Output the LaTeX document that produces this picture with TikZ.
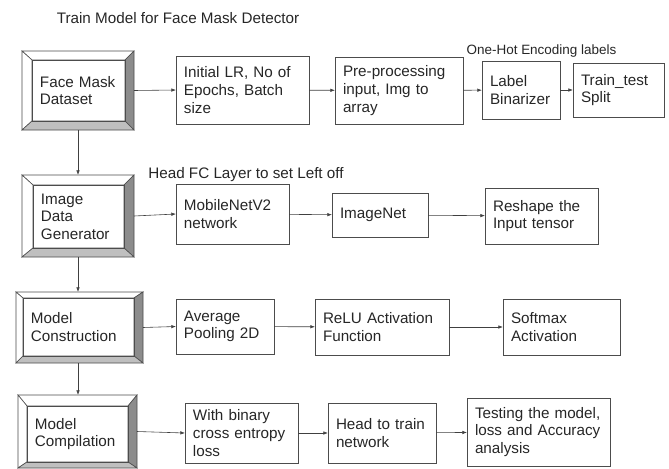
\documentclass[tikz,border=0pt]{standalone}
\usepackage{fontspec}
\setmainfont{Liberation Sans}
\usepackage{xcolor}
\usetikzlibrary{arrows.meta,calc}

% bevelled frame round an (invisible) node: left, top, right, bottom widths
\newcommand{\bevelframe}[5]{%
  \path (#1.north west) coordinate (o1) (#1.north east) coordinate (o2)
        (#1.south east) coordinate (o3) (#1.south west) coordinate (o4);
  \path ($(o1)+(#2,#3)$) coordinate (i1) ($(o2)+(-#4,#3)$) coordinate (i2)
        ($(o3)+(-#4,-#5)$) coordinate (i3) ($(o4)+(#2,-#5)$) coordinate (i4);
  \filldraw[frame, fill=white] (o1) -- (o2) -- (i2) -- (i1) -- cycle;
  \filldraw[frame, fill=white] (o1) -- (i1) -- (i4) -- (o4) -- cycle;
  \filldraw[frame, fill=black!45] (o2) -- (o3) -- (i3) -- (i2) -- cycle;
  \filldraw[frame, fill=black!25] (o4) -- (i4) -- (i3) -- (o3) -- cycle;
  \draw[frame] (i1) rectangle (i3);
}

\tikzset{
  frame/.style={draw=black!70, line width=0.5pt, line join=miter},
  stepbox/.style={draw=black!70, line width=0.5pt, align=left,
    inner xsep=0.24cm, inner ysep=0pt, outer sep=0pt},
  holder/.style={inner sep=0pt, outer sep=0pt},
  link/.style={draw=black!75, line width=0.5pt, -{Latex[length=4pt, width=3pt]}}
}

\begin{document}
\begin{tikzpicture}[x=0.03cm, y=-0.03cm,
  every node/.style={font=\fontsize{13}{15}\selectfont, text=black!85}]
\useasboundingbox (0,0) rectangle (669,468);

\node (title) at (178,18) {Train Model for Face Mask Detector};

% left column: bevelled stages
\node[holder, minimum width=3.36cm, minimum height=2.37cm] (fmd) at (78,90.5) {};
\bevelframe{fmd}{10}{9}{9}{9}
\node[stepbox, draw=none, text width=2.31cm] (fmdtext) at (78.5,90.5) {Face Mask\\Dataset};

\node[holder, minimum width=3.36cm, minimum height=2.46cm] (idg) at (78,216) {};
\bevelframe{idg}{11}{10}{10}{9}
\node[stepbox, draw=none, text width=2.25cm] (idgtext) at (78.5,216.5) {Image\\Data\\Generator};

\node[holder, minimum width=3.81cm, minimum height=2.13cm] (mcon) at (79.5,327.5) {};
\bevelframe{mcon}{7}{6}{9}{7}
\node[stepbox, draw=none, text width=2.85cm] (mcontext) at (78.5,327) {Model\\Construction};

\node[holder, minimum width=3.57cm, minimum height=2.19cm] (mcomp) at (77.5,431.5) {};
\bevelframe{mcomp}{9}{11}{9}{6}
\node[stepbox, draw=none, text width=2.55cm] (mcomptext) at (77.5,434) {Model\\Compilation};

% row 1
\node[stepbox, text width=3.51cm, minimum height=2.04cm] (lr) at (242.5,90) {Initial LR, No of\\Epochs, Batch\\size};
\node[stepbox, text width=3.36cm, minimum height=2.01cm] (prep) at (399,90.5) {Pre-processing\\input, Img to\\array};
\node[stepbox, text width=1.86cm, minimum height=1.74cm] (lb) at (521,90) {Label\\Binarizer};
\node[stepbox, text width=2.25cm, minimum height=1.62cm] (tts) at (618.5,90) {Train\_test\\Split};
\node[font=\fontsize{11.5}{14}\selectfont] (ohe) at (541.5,51) {One-Hot Encoding labels};

% row 2
\node[stepbox, text width=2.91cm, minimum height=1.8cm] (mnet) at (232.5,214) {MobileNetV2\\network};
\node[stepbox, text width=2.4cm, minimum height=1.32cm] (inet) at (380,215) {ImageNet};
\node[stepbox, text width=2.91cm, minimum height=1.68cm] (resh) at (541.5,216) {Reshape the\\Input tensor};
\node (headfc) at (246,175) {Head FC Layer to set Left off};

% row 3
\node[stepbox, text width=2.46cm, minimum height=1.65cm] (avg) at (225,326.5) {Average\\Pooling 2D};
\node[stepbox, text width=3.54cm, minimum height=1.68cm] (relu) at (382,327) {ReLU Activation\\Function};
\node[stepbox, text width=3.03cm, minimum height=1.68cm] (soft) at (561.5,327) {Softmax\\Activation};

% row 4
\node[stepbox, text width=2.91cm, minimum height=1.8cm] (bce) at (241.5,433) {With binary\\cross entropy\\loss};
\node[stepbox, text width=2.76cm, minimum height=1.8cm] (head) at (382,433) {Head to train\\network};
\node[stepbox, text width=3.81cm, minimum height=2.04cm] (test) at (538.5,432) {Testing the model,\\loss and Accuracy\\analysis};

% connectors
\draw[link] (fmd.south) -- (idg.north);
\draw[link] (idg.south) -- (idg.south |- mcon.north);
\draw[link] (idg.south |- mcon.south) -- (idg.south |- mcomp.north);

\draw[link] (fmd.east) -- (lr.west);
\draw[link] (lr) -- (prep);
\draw[link] (prep) -- (lb);
\draw[link] (lb) -- (tts);

\draw[link] (idg.east) -- (mnet.west);
\draw[link] (mnet) -- (inet);
\draw[link] (inet) -- (resh);

\draw[link] (mcon.east) -- (avg.west);
\draw[link] (avg) -- (relu);
\draw[link] (relu) -- (soft);

\draw[link] (mcomp.east) -- (bce.west);
\draw[link] (bce) -- (head);
\draw[link] (head) -- (test);
\end{tikzpicture}
\end{document}
